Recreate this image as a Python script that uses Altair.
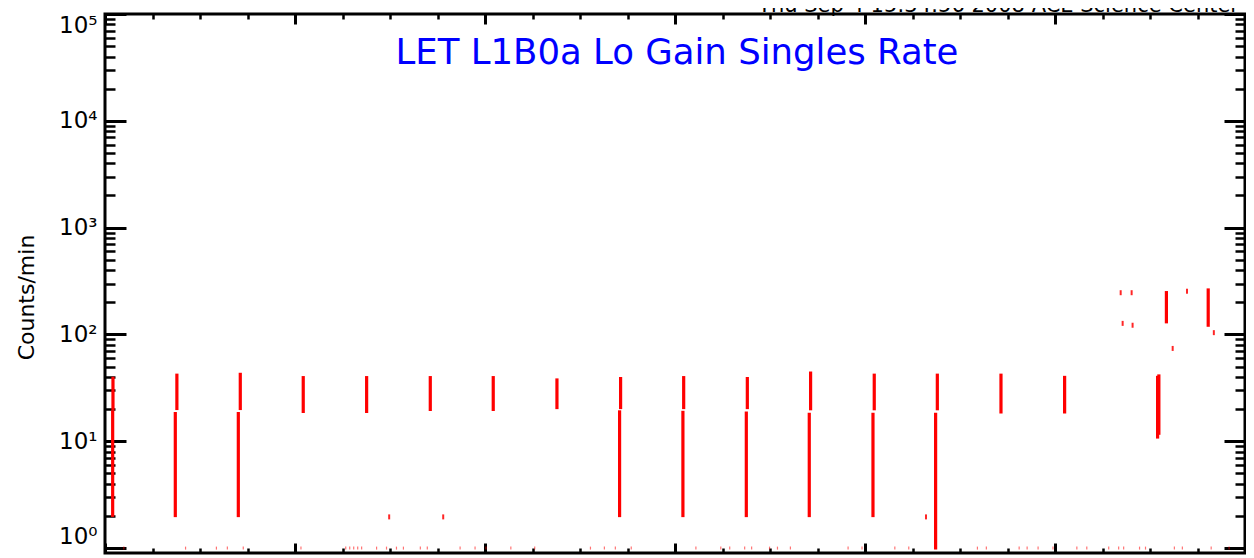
import altair as alt
import pandas as pd

# ---- data (x in days from the left edge, y in counts/min) ----
seg_day = [0.121, 0.126, 1.110, 1.135, 2.105, 2.136, 3.130, 4.131, 5.136, 6.130, 7.136,
           8.125, 8.141, 9.125, 9.137, 10.126, 10.142, 11.120, 11.141, 12.126, 12.146,
           13.115, 13.142, 14.147, 15.152, 16.620, 16.640, 16.759, 17.419]
seg_lo = [1.96, 19.5, 1.95, 19.6, 1.95, 19.6, 18.4, 18.4, 19.2, 19.2, 20.0,
          1.95, 20.0, 1.95, 20.0, 1.95, 20.0, 1.95, 19.5, 1.95, 19.5,
          0.97, 19.5, 18.2, 18.2, 10.6, 11.5, 127, 118]
seg_hi = [19.5, 40.2, 18.8, 43.0, 18.8, 43.8, 40.8, 40.8, 40.8, 40.8, 38.8,
          19.5, 40.0, 19.3, 40.8, 19.0, 40.0, 18.5, 45.0, 18.5, 43.0,
          18.5, 43.0, 43.0, 41.0, 41.0, 42.3, 255, 270]

dot_day = [4.487, 5.340, 12.963, 16.037, 16.210, 16.068, 16.225, 16.858, 17.084, 17.508]
dot_val = [1.96, 1.96, 1.96, 246, 246, 127, 122, 74, 254, 104]

floor_day = [0.298, 1.272, 1.759, 1.932, 2.183, 3.094, 3.801, 3.864, 3.927, 3.990, 4.052,
             4.288, 4.445, 4.602, 4.712, 4.979, 5.089, 5.607, 5.843, 6.016, 6.408, 6.785,
             7.665, 7.885, 8.058, 8.309, 9.330, 9.723, 9.864, 10.100, 10.210, 10.493,
             10.618, 10.822, 11.733, 11.953, 12.471, 12.691, 13.775, 13.916, 14.434,
             14.560, 14.733, 14.968, 15.345, 15.502, 15.848, 16.005, 16.084, 16.335,
             16.429, 16.885, 17.011, 17.466, 17.749]
floor_val = [1.0, 1.0, 1.0, 1.0, 1.0, 1.0, 1.0, 1.0, 1.0, 1.0, 1.0,
             1.0, 1.0, 1.0, 1.0, 1.0, 1.0, 1.0, 1.0, 1.0, 1.0, 1.0,
             1.0, 1.0, 1.0, 1.0, 1.0, 1.0, 1.0, 1.0, 1.0, 1.0,
             1.0, 1.0, 1.0, 1.0, 1.0, 1.0, 1.0, 1.0, 1.0,
             1.0, 1.0, 1.0, 1.0, 1.0, 1.0, 1.0, 1.0, 1.0,
             1.0, 1.0, 1.0, 1.0, 1.0]

major_y = [1, 10, 100, 1000, 10000, 100000]
minor_y = [m * 10 ** k for k in range(5) for m in range(2, 10)]
major_x = [0, 3, 6, 9, 12, 15, 18]
minor_x = [0.75, 1.5, 2.25, 3.75, 4.5, 5.25, 6.75, 7.5, 8.25, 9.75, 10.5, 11.25,
           12.75, 13.5, 14.25, 15.75, 16.5, 17.25]

title_text = "LET L1B0a Lo Gain Singles Rate"
stamp_text = "Thu Sep  4 15:34:56 2008 ACE Science Center"
y_title = "Counts/min"

W, H = 1140, 539
FONT = "DejaVu Sans"

xs = alt.Scale(domain=[0, 18], nice=False, zero=False)
ys = alt.Scale(type="log", domain=[0.9, 100000], nice=False)

seg_df = pd.DataFrame({"day": seg_day, "lo": seg_lo, "hi": seg_hi})
dot_df = pd.DataFrame({"day": dot_day, "val": dot_val})
floor_df = pd.DataFrame({"day": floor_day, "val": floor_val})

base = alt.Chart(seg_df)


def tick_axis(orient, values, size, width, offset):
    return alt.Axis(orient=orient, values=values, offset=offset, labels=False,
                    domain=False, grid=False, ticks=True, tickSize=size,
                    tickWidth=width, tickColor="black", title=None)


def axis_layer(xaxis, yaxis):
    return base.mark_point(opacity=0).encode(
        x=alt.X("day:Q", scale=xs, axis=xaxis),
        y=alt.Y("lo:Q", scale=ys, axis=yaxis),
    )


label_axis = alt.Axis(
    orient="left", values=major_y, ticks=False, tickSize=0, domain=False, grid=False,
    labelExpr="'10' + ['⁰','¹','²','³','⁴','⁵'][round(log(datum.value)/LN10)]",
    labelFont=FONT, labelFontSize=23, labelColor="black", labelPadding=8,
    labelFlush=8, labelOverlap=False,
    title=y_title, titleFont=FONT, titleFontSize=22, titleFontWeight="normal",
    titleColor="black", titleX=-72, titleY=283, titleAngle=270,
    titleBaseline="alphabetic", titleAlign="center",
)

layers = [
    axis_layer(None, label_axis),
    axis_layer(tick_axis("top", major_x, 10, 3, -H), tick_axis("right", major_y, 21, 3, -W)),
    axis_layer(tick_axis("top", minor_x, 5, 2.5, -H), tick_axis("right", minor_y, 10, 2.5, -W)),
    axis_layer(tick_axis("bottom", major_x, 10, 3, -H), tick_axis("left", major_y, 21, 3, -W)),
    axis_layer(tick_axis("bottom", minor_x, 5, 2.5, -H), tick_axis("left", minor_y, 10, 2.5, -W)),
]

spikes = base.mark_rule(color="#ff0000", strokeWidth=3.2).encode(
    x=alt.X("day:Q", scale=xs, axis=None),
    y=alt.Y("lo:Q", scale=ys, axis=None),
    y2="hi:Q",
)

dots = alt.Chart(dot_df).mark_tick(orient="vertical", size=5, thickness=2,
                                    color="#ff0000", opacity=0.85).encode(
    x=alt.X("day:Q", scale=xs, axis=None),
    y=alt.Y("val:Q", scale=ys, axis=None),
)

floor = alt.Chart(floor_df).mark_tick(orient="vertical", size=3, thickness=1.2,
                                       color="#ff0000", opacity=0.55).encode(
    x=alt.X("day:Q", scale=xs, axis=None),
    y=alt.Y("val:Q", scale=ys, axis=None),
)

title = alt.Chart(alt.Data(values=[{"t": title_text}])).mark_text(
    font=FONT, fontSize=35.5, color="#0000ff", align="center", baseline="alphabetic",
).encode(text="t:N", x=alt.value(572), y=alt.value(50))

stamp = alt.Chart(alt.Data(values=[{"t": stamp_text}])).mark_text(
    font=FONT, fontSize=21, color="black", align="right", baseline="alphabetic"
).encode(text="t:N", x=alt.value(1134), y=alt.value(-2))

chart = (
    alt.layer(*layers, spikes, dots, floor, title, stamp)
    .resolve_axis(x="independent", y="independent")
    .properties(
        width=W, height=H,
        padding={"left": 97, "top": 6, "right": 1, "bottom": 5},
        autosize=alt.AutoSizeParams(type="none"),
        background="white",
    )
    .configure_view(stroke="black", strokeWidth=3)
)

chart.save("out.html", embed_options={"renderer": "svg", "actions": False})
